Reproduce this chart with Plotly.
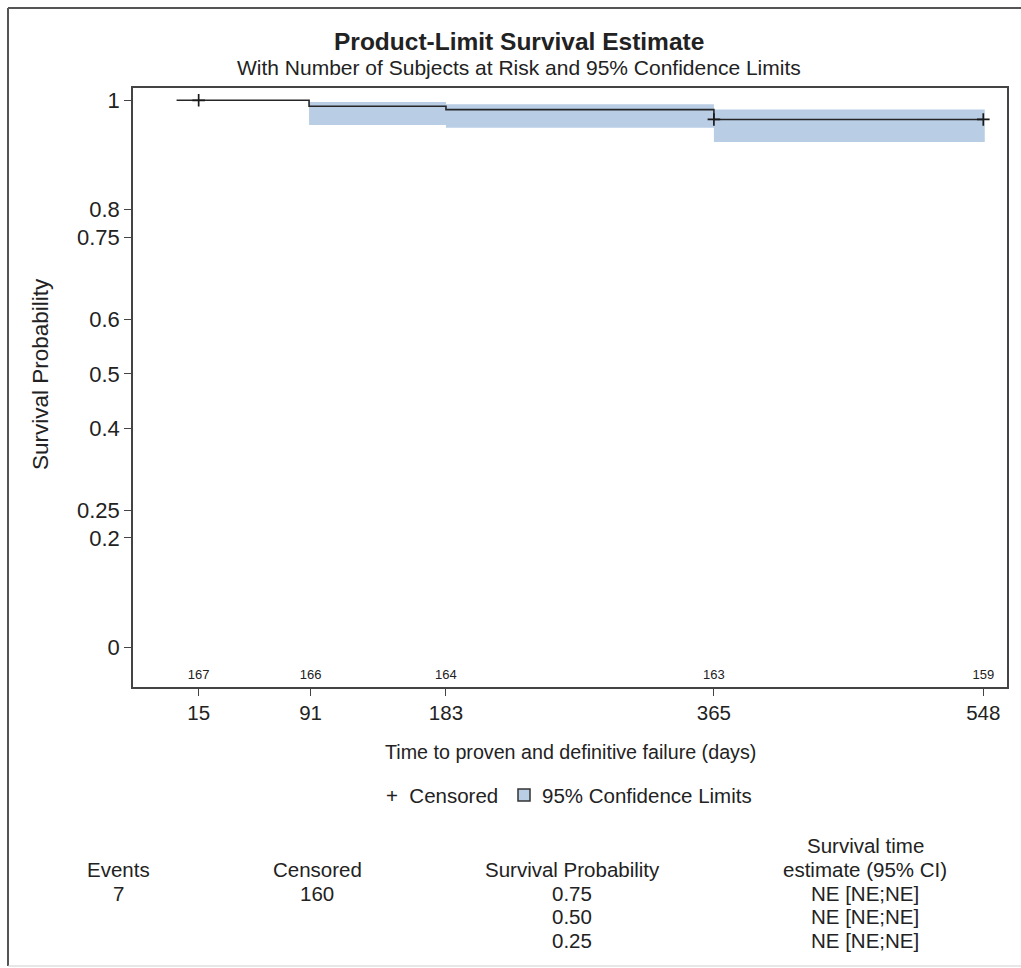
import plotly.graph_objects as go

# ---- data ----
step_times = [0, 90, 183, 365, 548]
step_surv = [1.0, 0.989, 0.983, 0.965, 0.965]
ci_times = [90, 183, 365, 549]
ci_lower = [0.955, 0.950, 0.924, 0.924]
ci_upper = [0.997, 0.993, 0.983, 0.983]
cens_times = [15, 365, 548]
cens_surv = [1.0, 0.965, 0.965]
risk_times = [15, 91, 183, 365, 548]
risk_counts = [167, 166, 164, 163, 159]
x_ticks = [15, 91, 183, 365, 548]
y_ticks = [0, 0.2, 0.25, 0.4, 0.5, 0.6, 0.75, 0.8, 1]
y_ticktext = ["0", "0.2", "0.25", "0.4", "0.5", "0.6", "0.75", "0.8", "1"]
n_events = "7"
n_censored = "160"
quartile_probs = ["0.75", "0.50", "0.25"]
quartile_est = ["NE [NE;NE]", "NE [NE;NE]", "NE [NE;NE]"]

FONT = "Liberation Sans, Arial, sans-serif"
TXT = "#222222"
BAND = "#b9cde5"

# layout geometry (pixels)
W, H = 1021, 968
L, R, T, B = 133, 1007, 88, 687

def px(x):
    return (x - L) / (R - L)

def py(y):
    return (B - y) / (B - T)

fig = go.Figure()

# CI band
fig.add_trace(go.Scatter(x=ci_times, y=ci_lower, mode="lines", line=dict(width=0, shape="hv"),
                         showlegend=False, hoverinfo="skip"))
fig.add_trace(go.Scatter(x=ci_times, y=ci_upper, mode="lines", line=dict(width=0, shape="hv"),
                         fill="tonexty", fillcolor=BAND, showlegend=False, hoverinfo="skip"))
# survival curve
fig.add_trace(go.Scatter(x=step_times, y=step_surv, mode="lines",
                         line=dict(color="#262626", width=1.6, shape="hv"), showlegend=False))
# censored markers
fig.add_trace(go.Scatter(x=cens_times, y=cens_surv, mode="markers", name="Censored", showlegend=False,
                         marker=dict(symbol="cross-thin", size=9, line=dict(color="#1a1a1a", width=1.7))))
# at-risk numbers
fig.add_trace(go.Scatter(x=risk_times, y=[-0.052] * len(risk_times), mode="text",
                         text=[str(v) for v in risk_counts], showlegend=False,
                         textfont=dict(family=FONT, size=13, color=TXT), hoverinfo="skip"))

def A(x, y, text, size, anchor="center", angle=0):
    return dict(x=px(x), y=py(y), text=text, textangle=angle, xref="paper", yref="paper",
                showarrow=False, xanchor=anchor, yanchor="middle",
                font=dict(family=FONT, size=size, color=TXT))

TS = 20.5
ann = [
    A(519, 41, "<b>Product-Limit Survival Estimate</b>", 24.5),
    A(519, 68, "With Number of Subjects at Risk and 95% Confidence Limits", 21),
    A(40, 374, "Survival Probability", 22.5, angle=-90),
    A(570, 752, "Time to proven and definitive failure (days)", 19.7),
    # manual legend
    A(384, 795, "+  Censored", 20.5, anchor="left"),
    A(540, 795, "95% Confidence Limits", 20.5, anchor="left"),
    # summary table
    A(118, 869, "Events", TS),
    A(118, 893, n_events, TS),
    A(317, 869, "Censored", TS),
    A(317, 893, n_censored, TS),
    A(572, 869, "Survival Probability", TS),
    A(865, 845, "Survival time", TS),
    A(865, 869, "estimate (95% CI)", TS),
]
row_y = [893, 916, 940]
for i in range(len(quartile_probs)):
    ann.append(A(572, row_y[i], quartile_probs[i], TS))
    ann.append(A(865, row_y[i], quartile_est[i], TS))

shapes = [
    # outer frame (top, left, bottom)
    dict(type="line", xref="paper", yref="paper", x0=px(8), x1=px(1021), y0=py(8), y1=py(8),
         line=dict(color="#555", width=2)),
    dict(type="line", xref="paper", yref="paper", x0=px(8), x1=px(8), y0=py(8), y1=py(966),
         line=dict(color="#555", width=2)),
    dict(type="line", xref="paper", yref="paper", x0=px(8), x1=px(1021), y0=py(966), y1=py(966),
         line=dict(color="#cfcfcf", width=1)),
    # legend swatch
    dict(type="rect", xref="paper", yref="paper", x0=px(518), x1=px(530), y0=py(801), y1=py(789),
         line=dict(color="#333", width=1.5), fillcolor=BAND),
]

fig.update_layout(
    width=W, height=H,
    margin=dict(l=L, r=W - R, t=T, b=H - B, pad=0),
    paper_bgcolor="white", plot_bgcolor="white",
    font=dict(family=FONT, color=TXT),
    annotations=ann, shapes=shapes, showlegend=False,
    xaxis=dict(range=[-29.6, 564.1], tickvals=x_ticks, ticktext=[str(v) for v in x_ticks],
               ticks="outside", ticklen=7, tickwidth=1.2, tickcolor="#444",
               showline=True, linecolor="#444", linewidth=1.5, mirror=True,
               showgrid=False, zeroline=False, tickfont=dict(family=FONT, size=20.5, color=TXT)),
    yaxis=dict(range=[-0.0726, 1.0225], tickvals=y_ticks, ticktext=y_ticktext,
               ticks="outside", ticklen=7, tickwidth=1.2, tickcolor="#444",
               showline=True, linecolor="#444", linewidth=1.5, mirror=True,
               showgrid=False, zeroline=False, tickfont=dict(family=FONT, size=22, color=TXT)),
)

fig.write_html("out.html")
